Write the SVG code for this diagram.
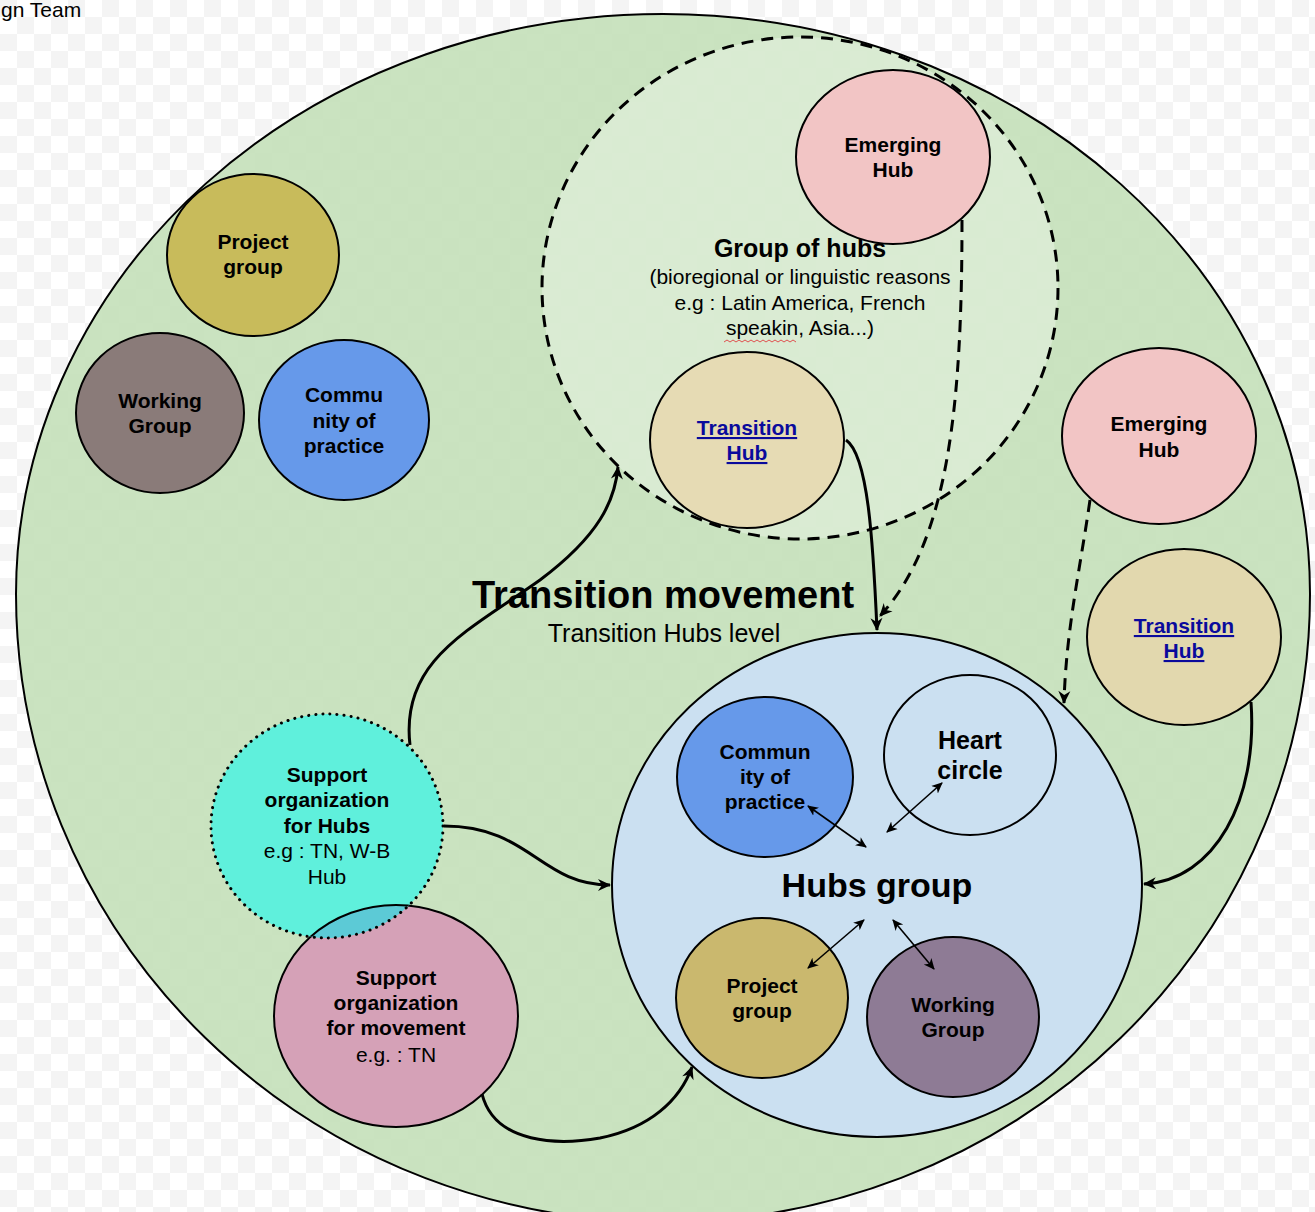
<svg xmlns="http://www.w3.org/2000/svg" width="1315" height="1212" viewBox="0 0 1315 1212">
<defs>
<pattern id="checker" width="34" height="34" patternUnits="userSpaceOnUse">
<rect width="34" height="34" fill="#ffffff"/>
<rect x="0" y="0" width="17" height="17" fill="#f4f4f4"/>
<rect x="17" y="17" width="17" height="17" fill="#f4f4f4"/>
</pattern>
<marker id="open" markerWidth="16" markerHeight="16" refX="13" refY="8" orient="auto" markerUnits="userSpaceOnUse">
<path d="M1,2 L14,8 L1,14 L5,8 Z" fill="#000"/>
</marker>
<marker id="small" markerWidth="12" markerHeight="12" refX="10" refY="6" orient="auto-start-reverse" markerUnits="userSpaceOnUse">
<path d="M0,1 L11,6 L0,11 L3,6 Z" fill="#000"/>
</marker>
<clipPath id="tealClip"><ellipse cx="327" cy="826" rx="116" ry="112"/></clipPath>
<style>
text{font-family:"Liberation Sans",Arial,sans-serif;fill:#000;text-anchor:middle}
.b{font-weight:bold;font-size:21px}
.n{font-size:21px}
.link{font-weight:bold;font-size:21px;fill:#0a0a9c;text-decoration:underline}
.node{stroke:#000;stroke-width:2}
.conn{fill:none;stroke:#000;stroke-width:3}
.dash{fill:none;stroke:#000;stroke-width:3;stroke-dasharray:12 8}
.thin{fill:none;stroke:#000;stroke-width:1.6}
</style>
</defs>
<rect width="1315" height="1212" fill="url(#checker)"/>
<text x="1" y="17" style="font-size:21px;text-anchor:start">gn Team</text>

<g id="transition-movement">
<path d="M16,594 A647,580 0 0 1 1310,594 A647,628 0 0 1 16,594 Z" fill="#c3dfb7" fill-opacity="0.88" stroke="#000" stroke-width="2"/>
<text x="663" y="608" style="font-size:38px;font-weight:bold">Transition movement</text>
<text x="664" y="642" style="font-size:25px">Transition Hubs level</text>
</g>

<g id="group-of-hubs">
<ellipse cx="800" cy="288" rx="258" ry="251" fill="#ffffff" fill-opacity="0.3" stroke="#000" stroke-width="3" stroke-dasharray="12 8"/>
<text x="800" y="257" style="font-size:25px;font-weight:bold">Group of hubs</text>
<text x="800" y="284" class="n">(bioregional or linguistic reasons</text>
<text x="800" y="310" class="n">e.g : Latin America, French</text>
<text x="800" y="335" class="n">speakin, Asia...)</text>
<path d="M724,342 l3,-2 l3,2 l3,-2 l3,2 l3,-2 l3,2 l3,-2 l3,2 l3,-2 l3,2 l3,-2 l3,2 l3,-2 l3,2 l3,-2 l3,2 l3,-2 l3,2 l3,-2 l3,2 l3,-2 l3,2 l3,-2 l3,2" fill="none" stroke="#e05050" stroke-width="1"/>
</g>

<g id="emerging-hub-top">
<ellipse class="node" cx="893" cy="157" rx="97" ry="87" fill="#f2c5c5"/>
<text x="893" y="152" class="b">Emerging</text>
<text x="893" y="177" class="b">Hub</text>
</g>

<g id="transition-hub-group">
<ellipse class="node" cx="747" cy="440" rx="97" ry="88" fill="#e6dbb4"/>
<text x="747" y="435" class="link">Transition</text>
<text x="747" y="460" class="link">Hub</text>
</g>

<g id="emerging-hub-right">
<ellipse class="node" cx="1159" cy="436" rx="97" ry="88" fill="#f2c5c5"/>
<text x="1159" y="431" class="b">Emerging</text>
<text x="1159" y="457" class="b">Hub</text>
</g>

<g id="transition-hub-right">
<ellipse class="node" cx="1184" cy="637" rx="97" ry="88" fill="#e2d8ae"/>
<text x="1184" y="633" class="link">Transition</text>
<text x="1184" y="658" class="link">Hub</text>
</g>

<g id="project-group-left">
<ellipse class="node" cx="253" cy="255" rx="86" ry="81" fill="#c8bb5b"/>
<text x="253" y="249" class="b">Project</text>
<text x="253" y="274" class="b">group</text>
</g>

<g id="working-group-left">
<ellipse class="node" cx="160" cy="413" rx="84" ry="80" fill="#8a7b79"/>
<text x="160" y="408" class="b">Working</text>
<text x="160" y="433" class="b">Group</text>
</g>

<g id="community-left">
<ellipse class="node" cx="344" cy="420" rx="85" ry="80" fill="#6699ea"/>
<text x="344" y="402" class="b">Commu</text>
<text x="344" y="428" class="b">nity of</text>
<text x="344" y="453" class="b">practice</text>
</g>

<g id="hubs-group">
<ellipse class="node" cx="877" cy="885" rx="265" ry="252" fill="#cbe0f1"/>
<text x="877" y="897" style="font-size:34px;font-weight:bold">Hubs group</text>
</g>

<g id="community-inner">
<ellipse class="node" cx="765" cy="777" rx="88" ry="80" fill="#6699ea"/>
<text x="765" y="759" class="b">Commun</text>
<text x="765" y="784" class="b">ity of</text>
<text x="765" y="809" class="b">practice</text>
</g>

<g id="heart-circle">
<ellipse class="node" cx="970" cy="755" rx="86" ry="80" fill="none"/>
<text x="970" y="749" style="font-size:25px;font-weight:bold">Heart</text>
<text x="970" y="779" style="font-size:25px;font-weight:bold">circle</text>
</g>

<g id="project-group-inner">
<ellipse class="node" cx="762" cy="998" rx="86" ry="80" fill="#cab86e"/>
<text x="762" y="993" class="b">Project</text>
<text x="762" y="1018" class="b">group</text>
</g>

<g id="working-group-inner">
<ellipse class="node" cx="953" cy="1017" rx="86" ry="80" fill="#8e7b95"/>
<text x="953" y="1012" class="b">Working</text>
<text x="953" y="1037" class="b">Group</text>
</g>

<g id="support-movement">
<ellipse class="node" cx="396" cy="1016" rx="122" ry="111" fill="#d5a1b7"/>
</g>

<g id="support-hubs">
<ellipse cx="327" cy="826" rx="116" ry="112" fill="#5ff0dc"/>
<ellipse cx="396" cy="1016" rx="122" ry="111" fill="#5ccad6" stroke="#000" stroke-width="2" clip-path="url(#tealClip)"/>
<ellipse cx="327" cy="826" rx="116" ry="112" fill="none" stroke="#000" stroke-width="3" stroke-dasharray="0.1 7" stroke-linecap="round"/>
<text x="327" y="782" class="b">Support</text>
<text x="327" y="807" class="b">organization</text>
<text x="327" y="833" class="b">for Hubs</text>
<text x="327" y="858" class="n">e.g : TN, W-B</text>
<text x="327" y="884" class="n">Hub</text>
</g>

<g id="support-movement-text">
<text x="396" y="985" class="b">Support</text>
<text x="396" y="1010" class="b">organization</text>
<text x="396" y="1035" class="b">for movement</text>
<text x="396" y="1062" class="n">e.g. : TN</text>
</g>

<g id="connectors">
<path class="conn" d="M846,440 C868,455 873,540 877,630" marker-end="url(#open)"/>
<path class="dash" d="M962,220 C962,400 950,540 880,616" marker-end="url(#open)"/>
<path class="dash" d="M1090,500 C1080,570 1066,630 1064,703" marker-end="url(#open)"/>
<path class="conn" d="M1251,702 C1258,800 1215,880 1144,884" marker-end="url(#open)"/>
<path class="conn" d="M410,745 C400,660 470,630 540,580 C600,535 615,500 618,467" marker-end="url(#open)"/>
<path class="conn" d="M444,826 C530,826 540,885 610,885" marker-end="url(#open)"/>
<path class="conn" d="M482,1094 C495,1145 560,1145 600,1138 C650,1128 680,1100 692,1067" marker-end="url(#open)"/>
<path class="thin" d="M808,806 L866,847" marker-start="url(#small)" marker-end="url(#small)"/>
<path class="thin" d="M887,832 L942,783" marker-start="url(#small)" marker-end="url(#small)"/>
<path class="thin" d="M808,968 L864,920" marker-start="url(#small)" marker-end="url(#small)"/>
<path class="thin" d="M893,920 L934,969" marker-start="url(#small)" marker-end="url(#small)"/>
</g>
</svg>
